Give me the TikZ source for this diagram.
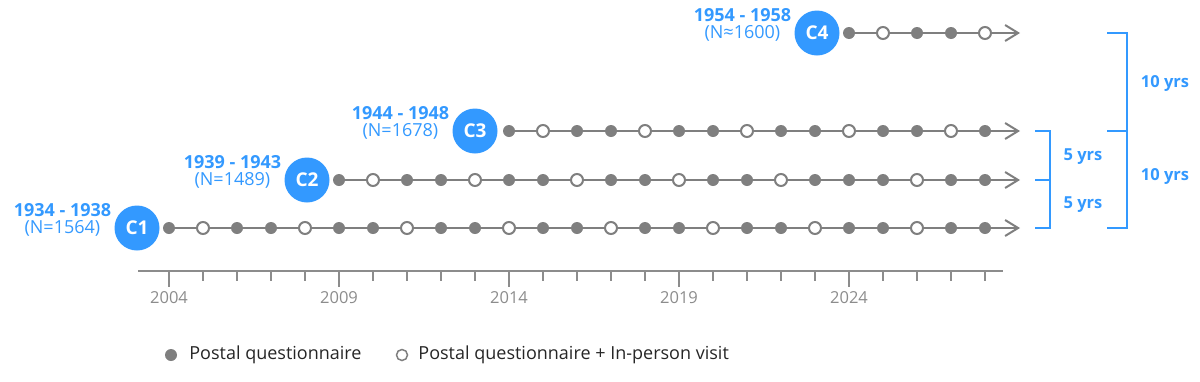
\documentclass[tikz,border=0pt]{standalone}
\usepackage{fontspec}
\setmainfont{Open Sans}
\usetikzlibrary{arrows.meta, positioning, backgrounds}
\definecolor{cohortblue}{HTML}{3399FF}
\definecolor{dotgray}{HTML}{7F7F7F}
\definecolor{axisgray}{HTML}{8C8C8C}

\begin{document}
\begin{tikzpicture}[
    x=1pt, y=-1pt,
    cohort/.style={circle, fill=cohortblue, minimum size=45pt, inner sep=0pt, text=white, font=\bfseries\fontsize{19}{19}\selectfont},
    span/.style={text=cohortblue, align=center, inner sep=0pt, font=\fontsize{18}{17}\selectfont},
    pq/.style={circle, fill=dotgray, minimum size=12pt, inner sep=0pt},
    pqv/.style={circle, draw=dotgray, fill=white, line width=2pt, minimum size=12pt, inner sep=0pt},
    track/.style={dotgray, line width=2pt, -{Straight Barb[length=13pt, width=16pt, line width=2pt]}},
    gap/.style={cohortblue, line width=2pt},
    gaplabel/.style={text=cohortblue, font=\bfseries\fontsize{16.5}{16.5}\selectfont},
    yearlabel/.style={text=axisgray, font=\fontsize{16.5}{16.5}\selectfont, below},
    legendtext/.style={text=black!85, font=\fontsize{18}{18}\selectfont, inner sep=0pt},
]
    \useasboundingbox (0,0) rectangle (1200,381);

    % cohort circles
    \node[cohort] (c1) at (137,228) {C1};
    \node[cohort] (c2) at (307,180) {C2};
    \node[cohort] (c3) at (475,131) {C3};
    \node[cohort] (c4) at (817,33) {C4};

    \node[span, left=3pt of c1, yshift=8.5pt] (s1) {\textbf{1934 - 1938}\\(N=1564)};
    \node[span, left=3pt of c2, yshift=8.5pt] (s2) {\textbf{1939 - 1943}\\(N=1489)};
    \node[span, left=3pt of c3, yshift=8.5pt] (s3) {\textbf{1944 - 1948}\\(N=1678)};
    \node[span, left=3pt of c4, yshift=8.5pt] (s4) {\textbf{1954 - 1958}\\(N≈1600)};

    % survey waves
    \foreach \yr/\k in {2004/pq,2005/pqv,2006/pq,2007/pq,2008/pqv,2009/pq,2010/pq,2011/pqv,2012/pq,
        2013/pq,2014/pqv,2015/pq,2016/pq,2017/pqv,2018/pq,2019/pq,2020/pqv,2021/pq,2022/pq,
        2023/pqv,2024/pq,2025/pq,2026/pqv,2027/pq,2028/pq}
        \node[\k] (c1-\yr) at ({169+34*(\yr-2004)},228) {};
    \foreach \yr/\k in {2009/pq,2010/pqv,2011/pq,2012/pq,2013/pqv,2014/pq,2015/pq,2016/pqv,2017/pq,
        2018/pq,2019/pqv,2020/pq,2021/pq,2022/pqv,2023/pq,2024/pq,2025/pq,2026/pqv,2027/pq,2028/pq}
        \node[\k] (c2-\yr) at ({169+34*(\yr-2004)},180) {};
    \foreach \yr/\k in {2014/pq,2015/pqv,2016/pq,2017/pq,2018/pqv,2019/pq,2020/pq,2021/pqv,2022/pq,
        2023/pq,2024/pqv,2025/pq,2026/pq,2027/pqv,2028/pq}
        \node[\k] (c3-\yr) at ({169+34*(\yr-2004)},131) {};
    \foreach \yr/\k in {2024/pq,2025/pqv,2026/pq,2027/pq,2028/pqv}
        \node[\k] (c4-\yr) at ({169+34*(\yr-2004)},33) {};

    \coordinate (e1) at (1020,228);
    \coordinate (e2) at (1020,180);
    \coordinate (e3) at (1020,131);
    \coordinate (e4) at (1020,33);

    \begin{scope}[on background layer]
        \draw[track] (c1-2004.center) -- (e1);
        \draw[track] (c2-2009.center) -- (e2);
        \draw[track] (c3-2014.center) -- (e3);
        \draw[track] (c4-2024.center) -- (e4);
    \end{scope}

    % time axis
    \coordinate (axl) at (138,271);
    \coordinate (axr) at (1003,271);
    \draw[axisgray, line width=1.5pt] (axl) -- (axr);
    \foreach \yr in {2005,2006,2007,2008,2010,2011,2012,2013,2015,2016,2017,2018,2020,2021,2022,2023,2025,2026,2027,2028}
        \draw[axisgray, line width=1.5pt] ({169+34*(\yr-2004)},271) -- ++(0,10);
    \foreach \yr in {2004,2009,2014,2019,2024} {
        \draw[axisgray, line width=1.5pt] ({169+34*(\yr-2004)},271) -- ++(0,16);
        \node[yearlabel] (y\yr) at ({169+34*(\yr-2004)},288) {\yr};
    }

    % gaps between cohorts
    \coordinate (g5a) at (1035,131);
    \coordinate (g5b) at (1035,180);
    \coordinate (g5c) at (1035,228);
    \draw[gap] (g5a) -| ([xshift=15pt]g5c) -- (g5c);
    \draw[gap] (g5b) -- ++(15,0);
    \node[gaplabel] (l5a) at (1083,157) {5 yrs};
    \node[gaplabel] (l5b) at (1083,205) {5 yrs};

    \coordinate (g10a) at (1107,33);
    \coordinate (g10b) at (1107,131);
    \coordinate (g10c) at (1107,228);
    \draw[gap] (g10a) -| ([xshift=20pt]g10c) -- (g10c);
    \draw[gap] (g10b) -- ++(20,0);
    \node[gaplabel] (l10a) at (1165,83) {10 yrs};
    \node[gaplabel] (l10b) at (1165,176) {10 yrs};

    % legend
    \node[pq] (lgpq) at (171,355) {};
    \node[legendtext, right=12pt of lgpq] (lgpqt) {Postal questionnaire};
    \node[pqv, line width=1.5pt, minimum size=11pt] (lgpqv) at (402,355) {};
    \node[legendtext, right=10pt of lgpqv] (lgpqvt) {Postal questionnaire + In-person visit};
\end{tikzpicture}
\end{document}
